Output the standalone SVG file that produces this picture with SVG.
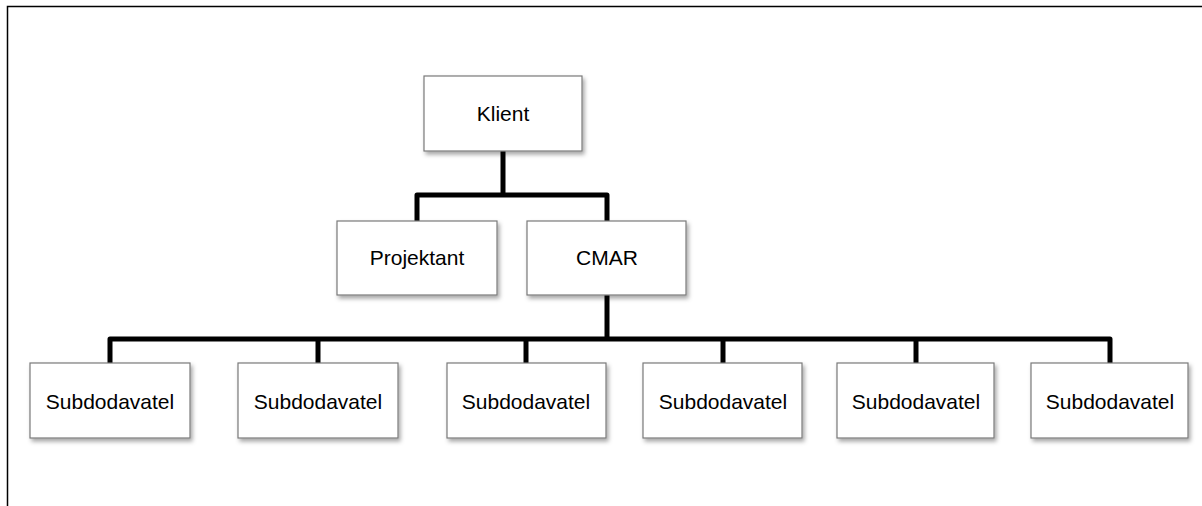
<svg xmlns="http://www.w3.org/2000/svg" width="1202" height="506" viewBox="0 0 1202 506">
<defs>
<filter id="sh" x="-10%" y="-10%" width="125%" height="135%">
<feDropShadow dx="2" dy="3" stdDeviation="2" flood-color="#000" flood-opacity="0.35"/>
</filter>
<style>
.box{fill:#fff;stroke:#7a7a7a;stroke-width:1.2;filter:url(#sh)}
.lbl{font-family:"Liberation Sans",Arial,sans-serif;font-size:21px;fill:#000;text-anchor:middle}
.con{fill:none;stroke:#000;stroke-width:5;stroke-linejoin:round;stroke-linecap:butt}
</style>
</defs>
<rect width="1202" height="506" fill="#fff"/>
<path d="M7.5,506 V6.5 H1202" fill="none" stroke="#000" stroke-width="1.5"/>
<g id="connectors">
<path class="con" d="M503,151 V195"/>
<path class="con" d="M417,221 V195 H607 V221"/>
<path class="con" d="M607,295 V339"/>
<path class="con" d="M110,363 V339 H1110 V363"/>
<path class="con" d="M318,339 V363"/>
<path class="con" d="M526,339 V363"/>
<path class="con" d="M723,339 V363"/>
<path class="con" d="M916,339 V363"/>
</g>
<g id="klient"><rect class="box" x="424" y="76" width="158" height="75"/><text class="lbl" x="503" y="121">Klient</text></g>
<g id="projektant"><rect class="box" x="337" y="221" width="160" height="74"/><text class="lbl" x="417" y="265">Projektant</text></g>
<g id="cmar"><rect class="box" x="527" y="221" width="159" height="74"/><text class="lbl" x="607" y="265">CMAR</text></g>
<g id="sub1"><rect class="box" x="30" y="363" width="160" height="75"/><text class="lbl" x="110" y="409">Subdodavatel</text></g>
<g id="sub2"><rect class="box" x="238" y="363" width="160" height="75"/><text class="lbl" x="318" y="409">Subdodavatel</text></g>
<g id="sub3"><rect class="box" x="447" y="363" width="159" height="75"/><text class="lbl" x="526" y="409">Subdodavatel</text></g>
<g id="sub4"><rect class="box" x="643" y="363" width="159" height="75"/><text class="lbl" x="723" y="409">Subdodavatel</text></g>
<g id="sub5"><rect class="box" x="837" y="363" width="157" height="75"/><text class="lbl" x="916" y="409">Subdodavatel</text></g>
<g id="sub6"><rect class="box" x="1031" y="363" width="157" height="75"/><text class="lbl" x="1110" y="409">Subdodavatel</text></g>
</svg>
